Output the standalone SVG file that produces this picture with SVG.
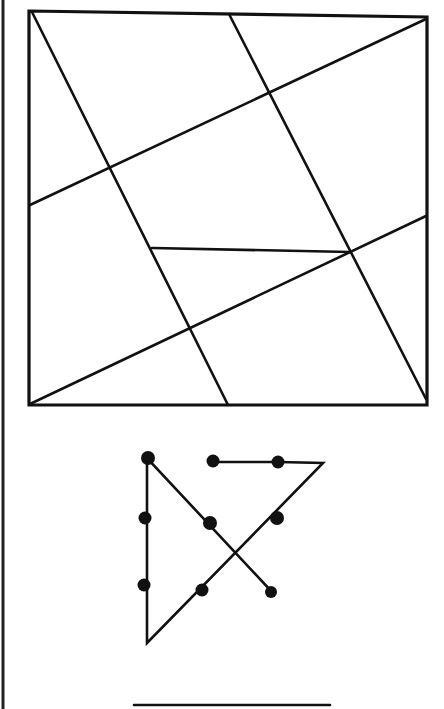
<svg xmlns="http://www.w3.org/2000/svg" width="444" height="709" viewBox="0 0 444 709">
<style>
.frame{fill:none;stroke:#111;stroke-width:3.2;stroke-linejoin:miter}
.ln{stroke:#111;stroke-width:2.6;stroke-linecap:round;fill:none}
.dot{fill:#111}
</style>
<rect width="444" height="709" fill="#fff"/>
<line x1="3" y1="0" x2="3" y2="709" stroke="#222" stroke-width="3"/>
<g id="square">
<polygon class="frame" points="29,11 427,17 427,405 29,405"/>
<line class="ln" x1="32" y1="12" x2="228" y2="405"/>
<line class="ln" x1="229" y1="14" x2="426" y2="399"/>
<line class="ln" x1="426" y1="19" x2="30" y2="205"/>
<line class="ln" x1="426" y1="216" x2="30" y2="404"/>
<line class="ln" x1="152" y1="248" x2="350" y2="252"/>
</g>
<g id="puzzle">
<polyline class="ln" points="213,462 278,462 323,463 147,643 147,458 272,592"/>
<circle class="dot" cx="148" cy="458" r="7"/>
<circle class="dot" cx="213" cy="461" r="6.5"/>
<circle class="dot" cx="278" cy="462" r="6.5"/>
<circle class="dot" cx="145" cy="518" r="6.5"/>
<circle class="dot" cx="210" cy="523" r="7"/>
<circle class="dot" cx="277" cy="518" r="7"/>
<circle class="dot" cx="144" cy="585" r="6.5"/>
<circle class="dot" cx="202" cy="590" r="6.5"/>
<circle class="dot" cx="271" cy="592" r="6"/>
</g>
<line id="bottom-line" class="ln" x1="134" y1="705" x2="330" y2="705" stroke-width="3"/>
</svg>
